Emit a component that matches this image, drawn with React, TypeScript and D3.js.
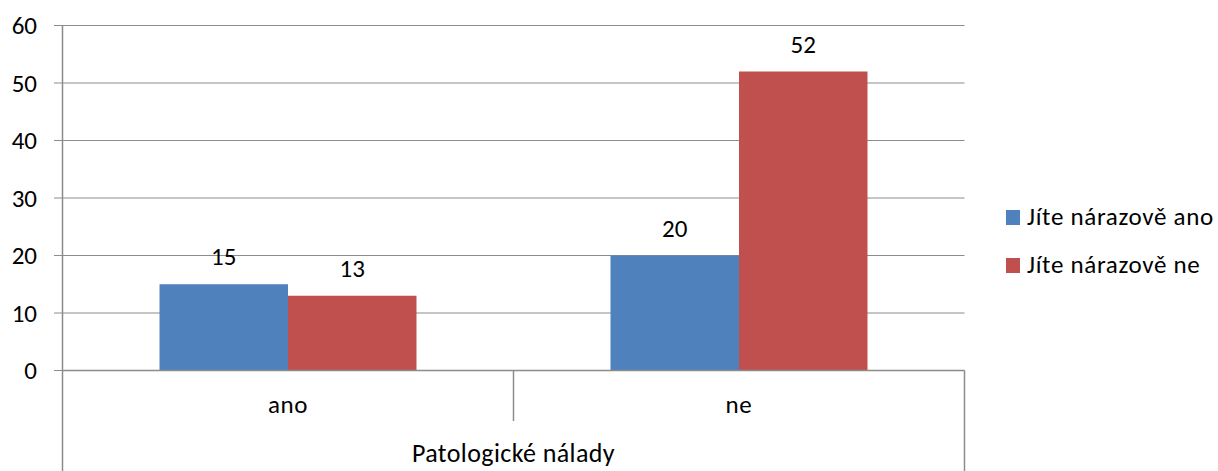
import * as d3 from 'd3';

const categories = ['ano', 'ne'];
const seriesNames = ['Jíte nárazově ano', 'Jíte nárazově ne'];
const seriesValues = [
  [15, 20],
  [13, 52],
];
const yTicks = [0, 10, 20, 30, 40, 50, 60];
const axisTitle = 'Patologické nálady';

const COLORS = ['#4F81BD', '#C0504D'];
const GRID = '#8c8c8c';
const FONT = 'Carlito, Lato, "Open Sans", sans-serif';
const FS = 25;

const W = 1218;
const H = 471;
const left = 62.5;
const right = 964.5;
const top = 25.5;
const bottom = 370.5;

export default function App() {
  const x = d3.scaleBand<string>().domain(categories).range([left, right]).paddingInner(0).paddingOuter(0);
  const inner = d3
    .scaleBand<string>()
    .domain(seriesNames)
    .range([0, x.bandwidth()])
    .paddingInner(0)
    .paddingOuter(0.755);
  const y = d3.scaleLinear().domain([0, 60]).range([bottom, top]);

  return (
    <div style={{ position: 'absolute', left: 0, top: 0 }}>
      <svg width={W} height={H} style={{ display: 'block', fontFamily: FONT }}>
        <rect width={W} height={H} fill="#fff" />
        {yTicks.map(t => (
          <g key={t}>
            <line x1={54} x2={right} y1={y(t)} y2={y(t)} stroke={GRID} strokeWidth={1} />
            <text x={37} y={y(t)} dy="0.35em" textAnchor="end" fontSize={FS} fill="#000">
              {t}
            </text>
          </g>
        ))}
        {seriesNames.map((s, si) =>
          categories.map((c, ci) => {
            const v = seriesValues[si][ci];
            const bx = (x(c) ?? 0) + (inner(s) ?? 0);
            return (
              <g key={s + c}>
                <rect x={bx} y={y(v)} width={inner.bandwidth()} height={bottom - y(v)} fill={COLORS[si]} />
                <text
                  x={bx + inner.bandwidth() / 2}
                  y={y(v) - 19}
                  textAnchor="middle"
                  fontSize={FS}
                  fill="#000"
                >
                  {v}
                </text>
              </g>
            );
          })
        )}
        <line x1={left} x2={right} y1={bottom} y2={bottom} stroke={GRID} strokeWidth={1.5} />
        <line x1={left} x2={left} y1={top} y2={H} stroke={GRID} strokeWidth={1.5} />
        <line x1={right} x2={right} y1={bottom} y2={H} stroke={GRID} strokeWidth={1.5} />
        {categories.slice(1).map(c => (
          <line key={c} x1={x(c)} x2={x(c)} y1={bottom} y2={421} stroke={GRID} strokeWidth={1.5} />
        ))}
        {categories.map(c => (
          <text
            key={c}
            x={(x(c) ?? 0) + x.bandwidth() / 2}
            y={413}
            textAnchor="middle"
            fontSize={FS}
            letterSpacing={0.6}
            fill="#000"
          >
            {c}
          </text>
        ))}
        <text
          x={(left + right) / 2}
          y={462}
          textAnchor="middle"
          fontSize={26}
          letterSpacing={0.4}
          fill="#000"
        >
          {axisTitle}
        </text>
        {seriesNames.map((s, i) => (
          <g key={s} transform={`translate(1006,${210 + i * 48})`}>
            <rect width={14} height={15} fill={COLORS[i]} />
            <text x={21} y={15} fontSize={25} letterSpacing={0.7} fill="#000">
              {s}
            </text>
          </g>
        ))}
      </svg>
    </div>
  );
}
